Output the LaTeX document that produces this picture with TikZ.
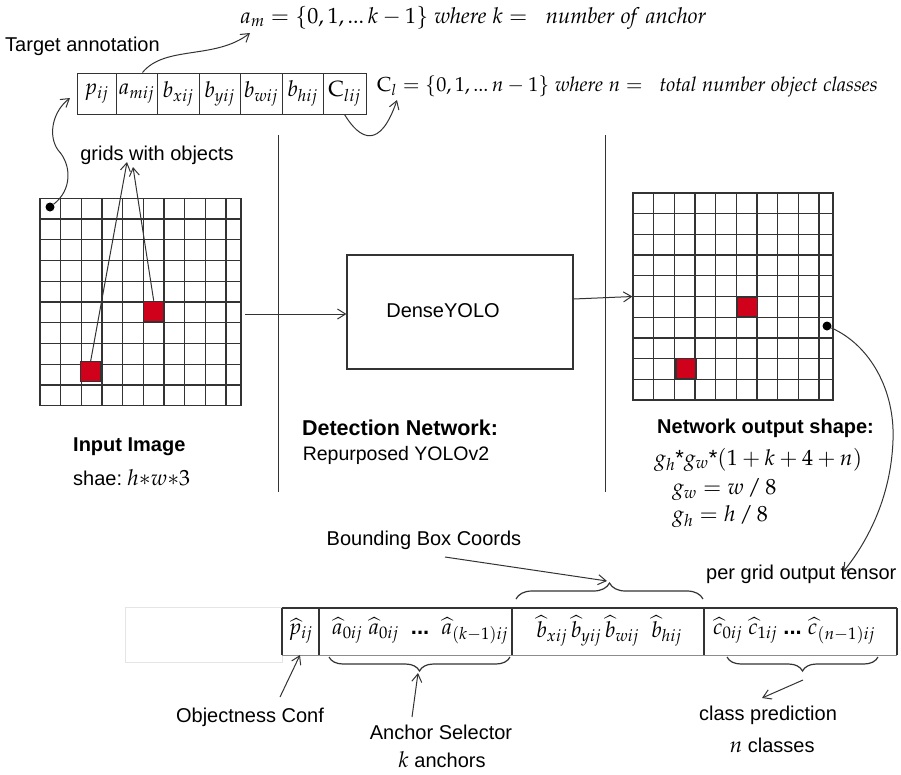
\documentclass[tikz,border=0pt]{standalone}
\usepackage{mathpazo}
\usepackage{amsmath}
\usepackage[no-math]{fontspec}
\setmainfont{Liberation Sans}
\usetikzlibrary{arrows.meta,decorations.pathreplacing,calc}
\definecolor{myred}{RGB}{208,2,27}
\definecolor{lineg}{RGB}{51,51,51}
\begin{document}
\begin{tikzpicture}[x=1pt,y=-1pt,
 txt/.style={font=\fontsize{20}{24}\selectfont, inner sep=0pt},
 mtxt/.style={font=\fontsize{22}{26}\selectfont, inner sep=0pt},
 btxt/.style={font=\fontsize{20}{24}\selectfont\bfseries, inner sep=0pt},
 arr/.style={-{Straight Barb[length=8pt,width=10pt]}, line width=1pt, lineg},
 gridl/.style={line width=1.3pt, lineg},
 redsq/.style={draw=lineg, line width=1.2pt, fill=myred, minimum size=20pt, inner sep=0pt},
 dotn/.style={circle, fill=black, inner sep=0pt, minimum size=9pt},
 acell/.style={draw=lineg, line width=1pt, minimum height=41pt, inner sep=0pt, font=\fontsize{22}{26}\selectfont},
 brcup/.style={decorate, decoration={brace, amplitude=16pt}, line width=1.2pt, lineg},
 brcdn/.style={decorate, decoration={brace, mirror, amplitude=14pt}, line width=1.2pt, lineg},
 divl/.style={line width=1pt, lineg},
 tline/.style={line width=1.3pt, lineg}
]
\useasboundingbox (0,0) rectangle (901,774);
\fill[white] (0,0) rectangle (901,774);

% ---------- top annotation ----------
\node[txt, anchor=west] (tann) at (5,46) {Target annotation};
\node[acell, minimum width=39pt] (cp) at (96.5,93.5) {$p_{ij}$};
\node[acell, minimum width=41pt] (ca) at (136.5,93.5) {$a_{mij}$};
\node[acell, minimum width=42pt] (cbx) at (178,93.5) {$b_{xij}$};
\node[acell, minimum width=41pt] (cby) at (219.5,93.5) {$b_{yij}$};
\node[acell, minimum width=42pt] (cbw) at (261,93.5) {$b_{wij}$};
\node[acell, minimum width=41pt] (cbh) at (302.5,93.5) {$b_{hij}$};
\node[acell, minimum width=43pt] (cc) at (344.5,93.5) {$\mathrm{C}_{lij}$};

\node[mtxt, anchor=west] (amf) at (240,18) {$a_m = \{0, 1,...\,k-1\}\ \mathit{where}\ k =\ \ \mathit{number\ of\ anchor}$};
\node[mtxt, font=\fontsize{20.2}{24}\selectfont, anchor=west] (clf) at (377,86) {$\mathrm{C}_l = \{0, 1,...\,n-1\}\ \mathit{where}\ n =\ \ \mathit{total\ number\ object\ classes}$};
\coordinate (amtip) at (250,33);
\coordinate (cltip) at (397,100);
\draw[arr] ([xshift=6pt]ca.north) .. controls (165,45) and (215,60) .. (amtip);
\draw[arr] (cc.south) .. controls (360,140) and (380,150) .. (cltip);

% ---------- dividers ----------
\coordinate (d1t) at (278,135); \coordinate (d1b) at (278,492);
\coordinate (d2t) at (605,135); \coordinate (d2b) at (605,492);
\draw[divl] (d1t) -- (d1b);
\draw[divl] (d2t) -- (d2b);

% ---------- input grid ----------
\node[draw=lineg, line width=1.3pt, minimum width=201pt, minimum height=207.5pt, inner sep=0pt] (ingrid) at (140.5,302) {};
\foreach \i in {1,...,9} \draw[gridl] (40+\i*20.67,198.25) -- (40+\i*20.67,405.75);
\foreach \j in {1,...,9} \draw[gridl] (40,198.25+\j*20.75) -- (241,198.25+\j*20.75);
\node[redsq] (r1) at (153.7,311.3) {};
\node[redsq] (r2) at (90.7,371.5) {};
\node[dotn] (d1) at (50,207) {};
\node[txt] (gwo) at (157,155) {grids with objects};
\coordinate (g1) at (127,162);
\coordinate (g2) at (133,167);
\draw[arr] (r2.north) -- (g1);
\draw[arr] (r1.north) -- (g2);
\coordinate (ptip) at (70,98);
\draw[arr] (d1) .. controls (72,190) and (72,165) .. (58,150) .. controls (48,136) and (52,112) .. (ptip);

\node[btxt, anchor=west] (inimg) at (73,447) {Input Image};
\node[txt, anchor=west] (inshape) at (73,478) {shae:\hspace{5pt}\fontsize{22}{26}\selectfont$h{*}w{*}3$};

% ---------- detection network ----------
\node[draw=lineg, line width=1.2pt, minimum width=226pt, minimum height=114pt, inner sep=0pt] (dense) at (460,312) {};
\node[txt] (densetxt) at (443,311) {DenseYOLO};
\coordinate (inout) at (245,314);
\draw[arr] (inout) -- (dense.west |- inout);
\node[btxt, font=\fontsize{21.5}{25}\selectfont\bfseries] (detn) at (400,428) {Detection Network:};
\node[txt, font=\fontsize{19.5}{23}\selectfont] (repy) at (396,455) {Repurposed YOLOv2};

% ---------- output grid ----------
\node[draw=lineg, line width=1.3pt, minimum width=200pt, minimum height=207pt, inner sep=0pt] (outgrid) at (733,296.5) {};
\foreach \i in {1,...,9} \draw[gridl] (633+\i*20.67,193) -- (633+\i*20.67,400);
\foreach \j in {1,...,9} \draw[gridl] (633,193+\j*20.7) -- (833,193+\j*20.7);
\node[redsq] (r3) at (747.5,307) {};
\node[redsq] (r4) at (686,368.3) {};
\node[dotn] (d2) at (827,326) {};
\draw[arr] ([yshift=13pt]dense.east) -- (outgrid.west);

\node[btxt, anchor=west] (nos) at (657,428) {Network output shape:};
\node[mtxt, anchor=west] (f1) at (654,460) {$g_h\text{*}g_w\text{*}(1+k+4+n)$};
\node[mtxt, anchor=west] (f2) at (672,490) {$g_w = w\,/\,8$};
\node[mtxt, anchor=west] (f3) at (672,517) {$g_h = h\,/\,8$};

\node[txt, anchor=west] (pgt) at (706,574) {per grid output tensor};
\coordinate (pgtip) at (843,572);
\draw[arr] (d2) .. controls (870,345) and (895,390) .. (893,440) .. controls (891,500) and (865,545) .. (pgtip);

% ---------- output tensor ----------
\draw[black!10, line width=1pt] (125,607) rectangle (282,662);
\draw[black!45, line width=1pt] (282,655) -- (897,655);
\draw[tline] (282,608) -- (897,608);
\foreach \x in {282,319,512,704,897} \draw[tline] (\x,608) -- (\x,655);

\node[mtxt] (ph) at (300.5,631) {$\widehat{p}_{ij}$};
\node[mtxt] (ah) at (420,631) {$\widehat{a}_{0ij}\ \widehat{a}_{0ij}\ \ \textbf{...}\ \ \widehat{a}_{(k-1)ij}$};
\node[mtxt] (bh) at (609,631) {$\widehat{b}_{xij}\,\widehat{b}_{yij}\,\widehat{b}_{wij}\ \ \widehat{b}_{hij}$};
\node[mtxt] (ch) at (794,631) {$\widehat{c}_{0ij}\;\widehat{c}_{1ij}\ \textbf{...}\ \widehat{c}_{(n-1)ij}$};

\coordinate (ab1) at (329,657); \coordinate (ab2) at (510,657);
\coordinate (bb1) at (516,599); \coordinate (bb2) at (703,599);
\coordinate (cb1) at (727,657); \coordinate (cb2) at (878,657);
\draw[brcdn] (ab1) -- (ab2);
\draw[brcup] (bb1) -- (bb2);
\draw[brcdn] (cb1) -- (cb2);

\node[txt] (bbc) at (424,540) {Bounding Box Coords};
\coordinate (bbs) at (445,557);
\coordinate (bbtip) at (607,581);
\draw[arr] (bbs) -- (bbtip);

\node[txt] (objc) at (250,717) {Objectness Conf};
\coordinate (objs) at (280,697);
\coordinate (objtip) at (300,655);
\draw[arr] (objs) -- (objtip);

\node[txt] (ancs) at (441,732) {Anchor Selector};
\node[txt] (anck) at (442,760) {\fontsize{22}{26}\selectfont$k$\fontsize{20}{24}\selectfont{} anchors};
\coordinate (ancst) at (412,717);
\coordinate (anctip) at (418,673);
\draw[arr] (ancst) -- (anctip);

\node[txt] (clp) at (768,715) {class prediction};
\node[txt] (cln) at (772,745) {\fontsize{22}{26}\selectfont$n$\fontsize{20}{24}\selectfont{} classes};
\coordinate (clst) at (803,680);
\coordinate (cltip2) at (762,698);
\draw[arr] (clst) -- (cltip2);
\end{tikzpicture}
\end{document}
